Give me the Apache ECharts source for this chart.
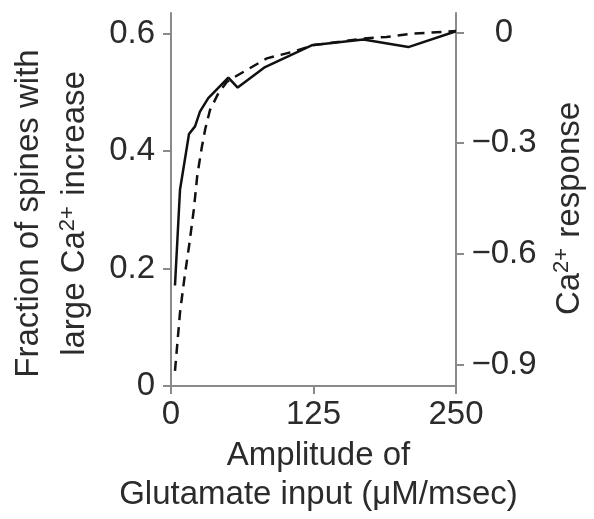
<!DOCTYPE html>
<html>
<head>
<meta charset="utf-8">
<script src="https://cdn.jsdelivr.net/npm/echarts@6/dist/echarts.min.js"></script>
<style>
html,body{margin:0;padding:0;background:#fff;}
#chart{width:594px;height:519px;}
</style>
</head>
<body>
<div id="chart"></div>
<script>
// Solid line: fraction of spines with large Ca2+ increase (left axis)
var solidX = [3.5, 7.9, 15.8, 21.1, 25.4, 32.7, 50.3, 58.5, 82.5, 123.4, 168.7, 208.2, 250];
var solidY = [0.171, 0.334, 0.429, 0.442, 0.467, 0.490, 0.525, 0.508, 0.543, 0.580, 0.590, 0.577, 0.604];
// Dashed line: Ca2+ response (right axis)
var dashX = [3.5, 7.9, 12, 16, 20, 23.1, 26.9, 30, 34.2, 41.5, 48.9, 55, 65, 84, 107, 125, 148, 169, 189, 212, 250];
var dashY = [-0.917, -0.759, -0.66, -0.575, -0.48, -0.386, -0.313, -0.262, -0.210, -0.165, -0.134, -0.122, -0.104, -0.070, -0.052, -0.034, -0.025, -0.016, -0.012, -0.003, 0.004];
// Tick values
var xTicks = [0, 125, 250];
var leftTicks = [0, 0.2, 0.4, 0.6];
var rightTicks = [0, -0.3, -0.6, -0.9];

var FONT = '"Liberation Sans", Arial, sans-serif';
var TXT = '#2b2b2b';
var AX = '#8a8a8a';
var FS = 33;

function pairs(xs, ys){ return xs.map(function(x,i){ return [x, ys[i]]; }); }

var chart = echarts.init(document.getElementById('chart'), null, {renderer:'canvas'});
var supRich = {
  sup: {fontSize: 22, lineHeight: 22, fontFamily: FONT, color: TXT, padding: [0,1,15,0], verticalAlign: 'middle'}
};
chart.setOption({
  animation: false,
  backgroundColor: '#fff',
  grid: {left: 171, right: 138, top: 13, bottom: 132, containLabel: false},
  xAxis: {
    type: 'value', min: 0, max: 250, interval: 125,
    axisLine: {show: true, lineStyle: {color: AX, width: 2}},
    axisTick: {show: true, length: 8, lineStyle: {color: AX, width: 2}, customValues: xTicks},
    splitLine: {show: false},
    axisLabel: {fontSize: FS, fontFamily: FONT, color: TXT, margin: 12, customValues: xTicks},
    name: 'Amplitude of\nGlutamate input (\u03bcM/msec)',
    nameLocation: 'middle', nameGap: 50,
    nameTextStyle: {fontSize: FS, fontFamily: FONT, color: TXT, lineHeight: 39, padding: [0, 0, 0, 10]}
  },
  yAxis: [{
    type: 'value', min: 0, max: 0.635, position: 'left',
    axisLine: {show: true, lineStyle: {color: AX, width: 2}},
    axisTick: {show: true, length: 8, lineStyle: {color: AX, width: 2}, customValues: leftTicks},
    splitLine: {show: false},
    axisLabel: {fontSize: FS, fontFamily: FONT, color: TXT, margin: 16, customValues: leftTicks,
      formatter: function(v){ return v === 0 ? '0' : v.toFixed(1); }},
    name: 'Fraction of spines with\nlarge Ca{sup|2+} increase',
    nameLocation: 'middle', nameGap: 73, nameRotate: 90,
    nameTextStyle: {fontSize: FS, fontFamily: FONT, color: TXT, lineHeight: 46, rich: supRich, padding: [0, 28, 0, 0]}
  }, {
    type: 'value', min: -0.958, max: 0.053, position: 'right',
    axisLine: {show: true, lineStyle: {color: AX, width: 2}},
    axisTick: {show: true, length: 8, lineStyle: {color: AX, width: 2}, customValues: rightTicks},
    splitLine: {show: false},
    axisLabel: {fontSize: FS, fontFamily: FONT, color: TXT, margin: 48, align: 'center', customValues: rightTicks,
      formatter: function(v){ return Math.abs(v) < 1e-9 ? '0' : '\u2212' + Math.abs(v).toFixed(1); }},
    name: 'Ca{sup|2+} response',
    nameLocation: 'middle', nameGap: 97, nameRotate: 90,
    nameTextStyle: {fontSize: FS, fontFamily: FONT, color: TXT, rich: supRich, padding: [0, 18, 0, 0]}
  }],
  series: [{
    type: 'line', yAxisIndex: 0, data: pairs(solidX, solidY),
    showSymbol: false, symbol: 'none',
    lineStyle: {color: '#111', width: 2.5, type: 'solid'}
  }, {
    type: 'line', yAxisIndex: 1, data: pairs(dashX, dashY),
    showSymbol: false, symbol: 'none',
    lineStyle: {color: '#111', width: 2.5, type: [10, 7]}
  }]
});
</script>
</body>
</html>
